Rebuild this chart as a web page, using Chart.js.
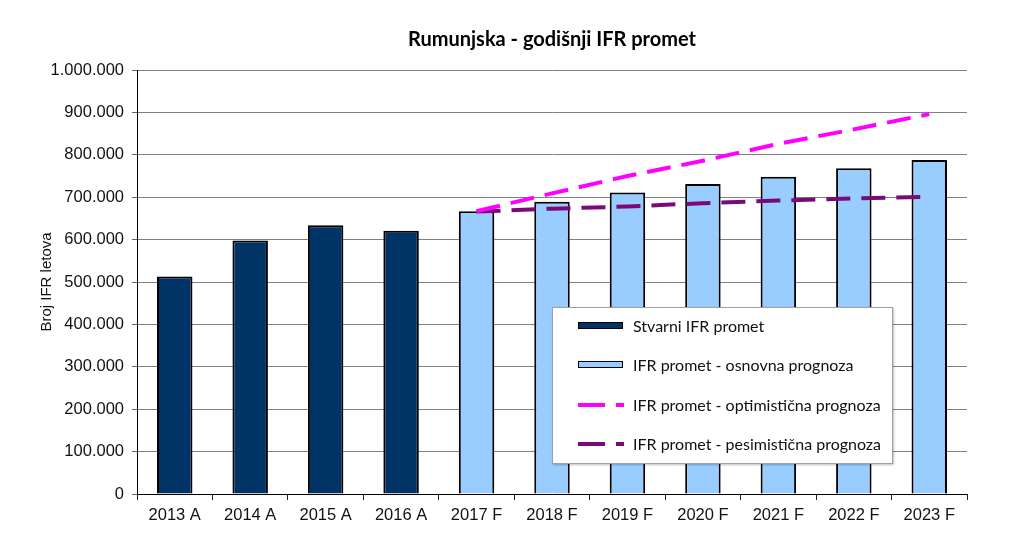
<!DOCTYPE html>
<html>
<head>
<meta charset="utf-8">
<script src="https://cdn.jsdelivr.net/npm/chart.js@4/dist/chart.umd.min.js"></script>
<style>
  html, body { margin: 0; padding: 0; background: #fff; }
  #wrap { position: relative; width: 1024px; height: 557px; }
  #legend { position: absolute; left: 552px; top: 307px; width: 339px; height: 155px;
    border: 1px solid #a0a0a0; background: #fff; box-shadow: 1px 1px 2px rgba(0,0,0,0.25);
    font-family: Lato, "Open Sans", sans-serif; font-size: 16px; color: #111; }
  .item { position: absolute; left: 0; height: 20px; }
  .item .txt { position: absolute; left: 80px; top: 0; line-height: 20px; white-space: nowrap; }
  .sw { position: absolute; left: 25px; top: 6px; width: 43px; height: 5px; border: 1.5px solid #000; }
  .dl { position: absolute; top: 8px; height: 4px; }
</style>
</head>
<body>
<div id="wrap">
  <canvas id="c" width="1024" height="557"></canvas>
  <div id="legend"></div>
</div>
<script>
const categories = ['2013 A','2014 A','2015 A','2016 A','2017 F','2018 F','2019 F','2020 F','2021 F','2022 F','2023 F'];
const actualTraffic = [512800, 597700, 634000, 620600, null, null, null, null, null, null, null];
const baseForecast = [null, null, null, null, 667000, 689000, 710800, 731300, 748500, 768300, 787900];
const optimisticForecast = [null, null, null, null, 667000, 709000, 750000, 786000, 826000, 860000, 896000];
const pessimisticForecast = [null, null, null, null, 666000, 673000, 678000, 686000, 692000, 697000, 701000];
const seriesNames = ['Stvarni IFR promet', 'IFR promet - osnovna prognoza', 'IFR promet - optimistična prognoza', 'IFR promet - pesimistična prognoza'];
const titleText = 'Rumunjska - godišnji IFR promet';
const yAxisTitle = 'Broj IFR letova';

const colors = { actual: '#003366', base: '#99ccff', opt: '#ff00ff', pes: '#7a0a7a' };

function fmt(v) { return String(v).replace(/\B(?=(\d{3})+(?!\d))/g, '.'); }

new Chart(document.getElementById('c'), {
  data: {
    labels: categories,
    datasets: [
      { type: 'line', label: seriesNames[2], data: optimisticForecast, borderColor: colors.opt, borderWidth: 4,
        borderDash: [24, 11], pointRadius: 0, tension: 0, fill: false, order: 0 },
      { type: 'line', label: seriesNames[3], data: pessimisticForecast, borderColor: colors.pes, borderWidth: 4,
        borderDash: [24, 11], pointRadius: 0, tension: 0, fill: false, order: 0 },
      { type: 'bar', label: seriesNames[0], data: actualTraffic, backgroundColor: colors.actual, borderColor: '#000',
        borderWidth: 2, grouped: false, barPercentage: 0.47, categoryPercentage: 1, order: 1 },
      { type: 'bar', label: seriesNames[1], data: baseForecast, backgroundColor: colors.base, borderColor: '#000',
        borderWidth: 2, grouped: false, barPercentage: 0.47, categoryPercentage: 1, order: 1 }
    ]
  },
  options: {
    responsive: false,
    animation: false,
    devicePixelRatio: 1,
    layout: { padding: { left: 0, right: 57, top: 0, bottom: 0 } },
    plugins: {
      legend: { display: false },
      tooltip: { enabled: false },
      title: { display: true, text: titleText, fullSize: false,
        font: { family: 'Lato, "Open Sans", sans-serif', size: 20, weight: 'bold', lineHeight: 1.2 },
        color: '#000', padding: { top: 28, bottom: 18 } }
    },
    scales: {
      x: {
        offset: true,
        grid: { offset: true, drawOnChartArea: true, drawTicks: true, tickLength: 6,
          color: (ctx) => ctx.index === categories.length ? '#8a8a8a' : 'rgba(0,0,0,0)', tickColor: '#222' },
        border: { color: '#000', width: 1 },
        ticks: { color: '#111', font: { family: '"Liberation Sans", Arial, sans-serif', size: 16.5 }, padding: 6,
          maxRotation: 0, autoSkip: false },
        afterFit: (s) => { s.height = 63; }
      },
      y: {
        min: 0, max: 1000000,
        ticks: { stepSize: 100000, color: '#111', padding: 8,
          font: { family: '"Liberation Sans", Arial, sans-serif', size: 16.5 }, callback: (v) => fmt(v) },
        grid: { color: '#808080', lineWidth: 1, tickLength: 5, tickColor: '#666' },
        border: { color: '#000', width: 1 },
        title: { display: true, text: yAxisTitle, color: '#111', padding: { top: 38, bottom: 0 },
          font: { family: '"Liberation Sans", Arial, sans-serif', size: 15 } },
        afterFit: (s) => { s.width = 137; }
      }
    }
  }
});

// HTML legend
const legendEl = document.getElementById('legend');
const items = [
  { name: seriesNames[0], kind: 'bar', color: colors.actual, y: 8 },
  { name: seriesNames[1], kind: 'bar', color: colors.base, y: 47 },
  { name: seriesNames[2], kind: 'line', color: colors.opt, y: 87 },
  { name: seriesNames[3], kind: 'line', color: colors.pes, y: 126 }
];
items.forEach(it => {
  const d = document.createElement('div');
  d.className = 'item';
  d.style.top = it.y + 'px';
  d.style.width = '339px';
  if (it.kind === 'bar') {
    const s = document.createElement('div');
    s.className = 'sw';
    s.style.background = it.color;
    d.appendChild(s);
  } else {
    const a = document.createElement('div');
    a.className = 'dl'; a.style.left = '25px'; a.style.width = '27px'; a.style.background = it.color;
    const b = document.createElement('div');
    b.className = 'dl'; b.style.left = '63px'; b.style.width = '8px'; b.style.background = it.color;
    d.appendChild(a); d.appendChild(b);
  }
  const t = document.createElement('div');
  t.className = 'txt';
  t.textContent = it.name;
  d.appendChild(t);
  legendEl.appendChild(d);
});
</script>
</body>
</html>
